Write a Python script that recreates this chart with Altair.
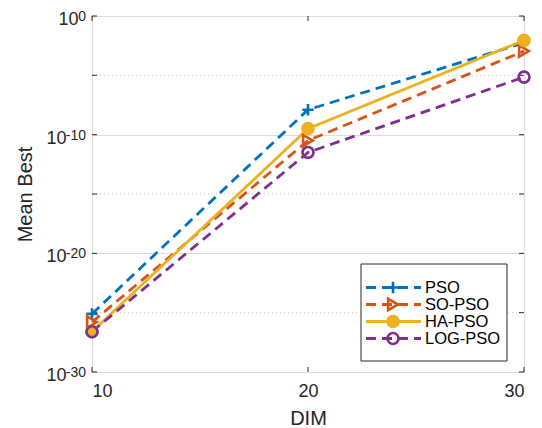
import altair as alt
import pandas as pd

series = ["PSO", "SO-PSO", "HA-PSO", "LOG-PSO"]
dims = [10, 20, 30]
pso = [7.9e-26, 1.26e-8, 5.6e-3]
so_pso = [1.6e-26, 3.2e-11, 1.1e-3]
ha_pso = [2.5e-27, 3.2e-10, 8.9e-3]
log_pso = [2.5e-27, 3.2e-12, 7.1e-6]

colors = ["#0072BD", "#D95319", "#EDB120", "#7E2F8E"]
dashes = [[10, 6], [10, 6], [1, 0], [10, 6]]
shapes = ["M-1,0L1,0M0,-1L0,1", "triangle-right", "circle", "circle"]
fills = ["transparent", "transparent", "#EDB120", "transparent"]
sizes = [130, 120, 55, 115]

major_ticks = [1e-30, 1e-20, 1e-10, 1]
exponents = ["-30", "-20", "-10", "0"]
minor_ticks = [1e-25, 1e-15, 1e-5]
x_ticks = [10, 20, 30]

W, H = 432, 356
TXT = "#262626"
FONT = "Liberation Sans"

rows = []
for name, vals in zip(series, [pso, so_pso, ha_pso, log_pso]):
    for d, v in zip(dims, vals):
        rows.append({"series": name, "dim": d, "value": v})
df = pd.DataFrame(rows)

yscale = alt.Scale(type="log", domain=[1e-30, 1], nice=False)
xscale = alt.Scale(domain=[10, 30], nice=False)
col = alt.Color("series:N", scale=alt.Scale(domain=series, range=colors), legend=None)
dash = alt.StrokeDash("series:N", scale=alt.Scale(domain=series, range=dashes), legend=None)
shp = alt.Shape("series:N", scale=alt.Scale(domain=series, range=shapes), legend=None)
fil = alt.Fill("series:N", scale=alt.Scale(domain=series, range=fills), legend=None)
siz = alt.Size("series:N", scale=alt.Scale(domain=series, range=sizes), legend=None)

yaxis = alt.Axis(values=major_ticks, labelExpr="'10'", title="Mean Best",
                 grid=True, gridColor="#dcdcdc", gridWidth=1, ticks=False, domain=False,
                 labelFontSize=18, labelBaseline="middle", labelOffset=3.5,
                 labelPadding={"condition": {"test": "datum.value >= 0.5", "value": 14}, "value": 26},
                 titleFontSize=20, titleFontWeight="normal",
                 titleX=-61, titleY=H / 2, titleBaseline="alphabetic", titleAngle=-90,
                 labelColor=TXT, titleColor=TXT, labelFont=FONT, titleFont=FONT)
xaxis = alt.Axis(values=x_ticks, title="DIM", grid=False, ticks=False, domain=False,
                 labelFontSize=18, labelPadding=10, labelBaseline="top",
                 titleFontSize=20, titleFontWeight="normal",
                 titleX=W / 2, titleY=52, titleBaseline="alphabetic",
                 labelColor=TXT, titleColor=TXT, labelFont=FONT, titleFont=FONT,
                 format="d")

lines = alt.Chart(df).mark_line(strokeWidth=2.8).encode(
    x=alt.X("dim:Q", scale=xscale, axis=xaxis),
    y=alt.Y("value:Q", scale=yscale, axis=yaxis),
    color=col, strokeDash=dash, order=alt.Order("dim:Q"),
)
points = alt.Chart(df).mark_point(filled=False, strokeWidth=2.6, opacity=1).encode(
    x=alt.X("dim:Q", scale=xscale),
    y=alt.Y("value:Q", scale=yscale),
    color=col, shape=shp, fill=fil, size=siz,
)

minor_df = pd.DataFrame({"value": minor_ticks})
minor_grid = alt.Chart(minor_df).mark_rule(color="#c8c8c8", strokeWidth=1, strokeDash=[1, 3]).encode(
    y=alt.Y("value:Q", scale=yscale), x=alt.value(0), x2=alt.value(W))

exp_df = pd.DataFrame({"value": major_ticks, "exp": exponents})
exp_text = alt.Chart(exp_df).mark_text(align="right", baseline="middle", fontSize=14, font=FONT,
                                       color=TXT, dy=1).encode(
    y=alt.Y("value:Q", scale=yscale), x=alt.value(-6), text="exp:N")

ytick_df = pd.DataFrame({"value": major_ticks + minor_ticks})
ytick_l = alt.Chart(ytick_df).mark_rule(color=TXT, strokeWidth=1).encode(
    y=alt.Y("value:Q", scale=yscale), x=alt.value(0), x2=alt.value(5))
ytick_r = alt.Chart(ytick_df).mark_rule(color=TXT, strokeWidth=1).encode(
    y=alt.Y("value:Q", scale=yscale), x=alt.value(W - 5), x2=alt.value(W))
xtick_df = pd.DataFrame({"dim": x_ticks})
xtick_b = alt.Chart(xtick_df).mark_rule(color=TXT, strokeWidth=1).encode(
    x=alt.X("dim:Q", scale=xscale), y=alt.value(H - 5), y2=alt.value(H))
xtick_t = alt.Chart(xtick_df).mark_rule(color=TXT, strokeWidth=1).encode(
    x=alt.X("dim:Q", scale=xscale), y=alt.value(0), y2=alt.value(5))

main = alt.layer(minor_grid, ytick_l, ytick_r, xtick_b, xtick_t, exp_text, lines, points)

# legend
leg_df = pd.DataFrame({"series": series})
ly = alt.Y("series:N", scale=alt.Scale(domain=series, range=[263, 331], padding=0), axis=None)
box = alt.Chart(alt.Data(values=[{"a": 1}])).mark_rect(fill="white", stroke=TXT, strokeWidth=1).encode(
    x=alt.value(269), x2=alt.value(415), y=alt.value(248), y2=alt.value(345))
leg_lines = alt.Chart(leg_df).mark_rule(strokeWidth=2.8).encode(
    x=alt.value(274), x2=alt.value(329), y=ly, color=col, strokeDash=dash)
leg_pts = alt.Chart(leg_df).mark_point(filled=False, strokeWidth=2.6, opacity=1).encode(
    x=alt.value(301), y=ly, color=col, shape=shp, fill=fil, size=siz)
leg_txt = alt.Chart(leg_df).mark_text(align="left", baseline="middle", fontSize=16.5, font=FONT,
                                      color="black").encode(
    x=alt.value(333), y=ly, text="series:N")
legend = alt.layer(box, leg_lines, leg_pts, leg_txt)

chart = alt.layer(main, legend).resolve_scale(y="independent").properties(
    width=W, height=H,
    autosize=alt.AutoSizeParams(type="none"),
    padding={"left": 84, "top": 8, "right": 10, "bottom": 56},
).configure_view(stroke=TXT, strokeWidth=1).configure(background="white")

chart.save("out.html", embed_options={"renderer": "svg", "actions": False})
